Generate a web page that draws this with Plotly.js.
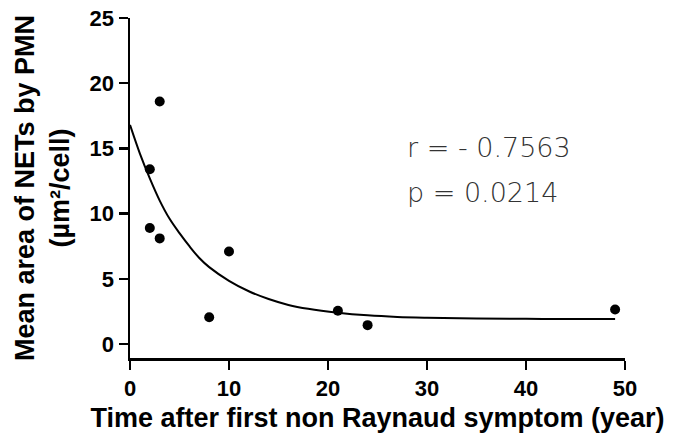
<!DOCTYPE html>
<html>
<head>
<meta charset="utf-8">
<script src="https://cdn.plot.ly/plotly-3.0.1.min.js"></script>
<style>html,body{margin:0;padding:0;background:#fff}#chart{width:679px;height:441px}</style>
</head>
<body>
<div id="chart"></div>
<script>
// Observed points
const pointX = [2, 2, 3, 3, 8, 10, 21, 24, 49];
const pointY = [13.4, 8.9, 18.6, 8.1, 2.05, 7.1, 2.55, 1.45, 2.65];
// Fitted curve
const curveX = [0, 1, 2, 3, 4, 5, 6, 7, 8, 10, 12, 14, 16, 18, 21, 24, 27, 30, 35, 40, 45, 49];
const curveY = [16.8, 14.6, 12.7, 11.0, 9.6, 8.5, 7.5, 6.6, 5.9, 4.85, 4.05, 3.45, 3.0, 2.7, 2.4, 2.2, 2.08, 2.02, 1.96, 1.93, 1.92, 1.92];
// Axis ticks
const xTicks = [0, 10, 20, 30, 40, 50];
const yTicks = [0, 5, 10, 15, 20, 25];
// Statistics text
const statLines = ["r = - 0.7563", "p = 0.0214"];
const statY = [15.1, 11.6];
const statX = 27.8;

const boldFont = {family: "Liberation Sans, Arial, sans-serif", size: 22, color: "#000", weight: 700};

const traces = [
  {x: curveX, y: curveY, mode: "lines", type: "scatter",
   line: {color: "#000", width: 2, shape: "spline"}, hoverinfo: "skip"},
  {x: pointX, y: pointY, mode: "markers", type: "scatter",
   marker: {color: "#000", size: 10, symbol: "circle"}}
];

const layout = {
  width: 679, height: 441,
  margin: {l: 130, r: 54, t: 17.5, b: 82.5},
  paper_bgcolor: "#fff", plot_bgcolor: "#fff",
  showlegend: false,
  xaxis: {
    range: [0, 50], tickvals: xTicks, ticktext: xTicks.map(String),
    showgrid: false, zeroline: false, showline: true, linecolor: "#000", linewidth: 2.5,
    ticks: "outside", ticklen: 9, tickwidth: 2.5, tickcolor: "#000",
    tickfont: boldFont,
    title: {text: "Time after first non Raynaud symptom (year)", font: {family: "Liberation Sans, Arial, sans-serif", size: 27, color: "#000", weight: 700}, standoff: 8},
    automargin: false
  },
  yaxis: {
    range: [-1.07, 25], tickvals: yTicks, ticktext: yTicks.map(String),
    showgrid: false, zeroline: false, showline: true, linecolor: "#000", linewidth: 2.5,
    ticks: "outside", ticklen: 9, tickwidth: 2.5, tickcolor: "#000",
    tickfont: boldFont,
    title: {text: "Mean area of NETs by PMN<br>(µm²/cell)", font: {family: "Liberation Sans, Arial, sans-serif", size: 27, color: "#000", weight: 700}, standoff: 12},
    automargin: false
  },
  annotations: statLines.map((t, i) => ({
    x: statX, y: statY[i], xref: "x", yref: "y", text: t, showarrow: false,
    xanchor: "left", yanchor: "middle",
    font: {family: "DejaVu Sans ExtraLight, DejaVu Sans, sans-serif", size: 27, color: "#333", weight: 200}
  }))
};

Plotly.newPlot("chart", traces, layout, {displayModeBar: false, staticPlot: true});
</script>
</body>
</html>
